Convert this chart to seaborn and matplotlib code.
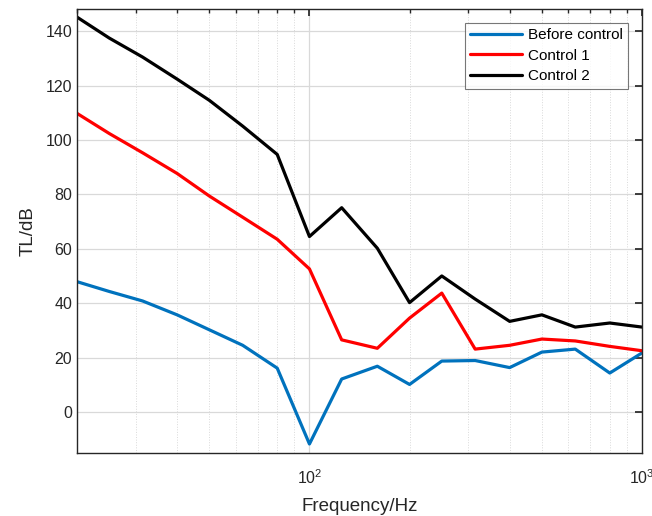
import numpy as np
import pandas as pd
import seaborn as sns
import matplotlib
matplotlib.use("Agg")
import matplotlib.pyplot as plt
from matplotlib.ticker import LogLocator, NullFormatter, FixedLocator, FixedFormatter

freq = [20, 25, 31.5, 40, 50, 63, 80, 100, 125, 160, 200, 250, 315, 400, 500, 630, 800, 1000]
before_control = [47.9, 44.3, 40.8, 35.7, 30.2, 24.5, 16.1, -11.8, 12.1, 16.8, 10.1, 18.7, 18.9, 16.3, 22.0, 23.1, 14.3, 21.7]
control_1 = [109.8, 102.4, 95.3, 87.7, 79.4, 71.6, 63.5, 52.6, 26.5, 23.4, 34.5, 43.7, 23.1, 24.5, 26.8, 26.1, 24.1, 22.5]
control_2 = [145.2, 137.5, 130.5, 122.4, 114.6, 105.1, 94.7, 64.5, 75.1, 60.2, 40.2, 50.0, 41.5, 33.3, 35.7, 31.2, 32.7, 31.2]
series_names = ["Before control", "Control 1", "Control 2"]
colors = ["#0072BD", "#FF0000", "#000000"]

df = pd.concat([
    pd.DataFrame({"Frequency": freq, "TL": vals, "Series": name})
    for name, vals in zip(series_names, [before_control, control_1, control_2])
], ignore_index=True)

sns.set_theme(style="white")
plt.rcParams['font.family'] = ['Liberation Sans', 'DejaVu Sans']
plt.rcParams['mathtext.fontset'] = 'custom'
plt.rcParams['mathtext.rm'] = 'Liberation Sans'
plt.rcParams['mathtext.it'] = 'Liberation Sans'

fig = plt.figure(figsize=(6.52, 5.16), dpi=100)
ax = fig.add_axes([77/652, 1-452.7/516, (642-77)/652, (452.7-9.5)/516])

sns.lineplot(data=df, x="Frequency", y="TL", hue="Series", hue_order=series_names,
             palette=colors, linewidth=2.3, ax=ax, legend=True, sort=False)

ax.set_xscale("log")
ax.set_xlim(20, 1000)
ax.set_ylim(-15, 148)
ax.set_yticks([0, 20, 40, 60, 80, 100, 120, 140])
ax.xaxis.set_major_locator(FixedLocator([100, 1000]))
ax.xaxis.set_major_formatter(FixedFormatter([r"$10^{2}$", r"$10^{3}$"]))
ax.xaxis.set_minor_locator(LogLocator(base=10, subs=np.arange(2, 10), numticks=20))
ax.xaxis.set_minor_formatter(NullFormatter())

ax.grid(True, which="major", color="#D9D9D9", linewidth=0.9, linestyle="-")
ax.grid(True, which="minor", axis="x", color="#D9D9D9", linewidth=0.7, linestyle=":")
ax.set_axisbelow(True)

tc = "#262626"
ax.tick_params(which="both", direction="in", top=True, right=True, colors=tc,
               labelsize=11.5, length=5)
ax.tick_params(which="minor", length=3)
ax.tick_params(axis="x", pad=11)
for s in ax.spines.values():
    s.set_color(tc)
    s.set_linewidth(1.0)

ax.set_xlabel("Frequency/Hz", fontsize=13.5, color=tc, labelpad=8)
ax.set_ylabel("TL/dB", fontsize=13.5, color=tc, labelpad=6)

leg = ax.legend(loc="upper right", bbox_to_anchor=(0.9758, 0.9695), borderaxespad=0,
                fontsize=11, frameon=True, fancybox=False, edgecolor="#555555",
                handlelength=3.4, borderpad=0.35, labelspacing=0.42, handletextpad=0.4)
leg.get_frame().set_linewidth(0.8)
for t in leg.get_texts():
    t.set_color("#000000")

fig.savefig("out.png", dpi=100)
